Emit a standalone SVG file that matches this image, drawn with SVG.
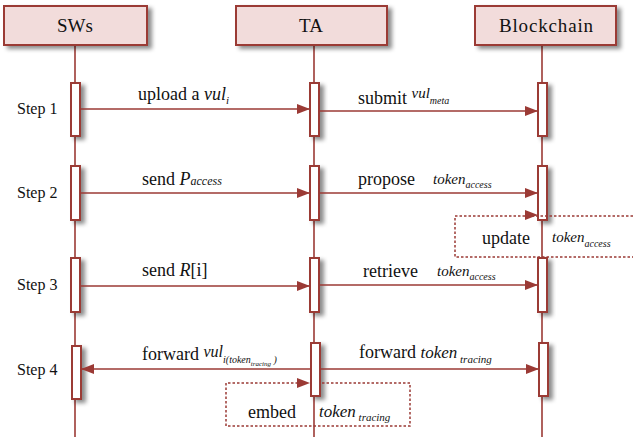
<svg xmlns="http://www.w3.org/2000/svg" width="633" height="437" viewBox="0 0 633 437" font-family="'Liberation Serif', 'DejaVu Serif', serif">
<defs>
<filter id="sh" x="-50%" y="-20%" width="250%" height="150%">
<feDropShadow dx="4" dy="3" stdDeviation="2.2" flood-color="#000" flood-opacity="0.45"/>
</filter>
<marker id="ah" markerWidth="13" markerHeight="10" refX="13" refY="5" orient="auto-start-reverse" markerUnits="userSpaceOnUse">
<path d="M0,0 L13,5 L0,10 Z" fill="#9b3a35"/>
</marker>
</defs>
<style>
.hdr{fill:#f2dcdb;stroke:#9b3a35;stroke-width:2}
.act{fill:#fff;stroke:#9b3a35;stroke-width:2}
.life{stroke:#9b3a35;stroke-width:1.6;fill:none}
.msg{stroke:#9b3a35;stroke-width:1.6;fill:none;marker-end:url(#ah)}
.dot{stroke:#9b3a35;stroke-width:1.5;fill:none;stroke-dasharray:2.5 2}
text{font-family:'Liberation Serif','DejaVu Serif',serif;fill:#111}
.h{font-size:19px;text-anchor:middle}
.s{font-size:16px}
.m{font-size:18px}
.i{font-style:italic}
</style>

<g id="lifelines">
<line class="life" x1="75" y1="45" x2="75" y2="437"/>
<line class="life" x1="314" y1="45" x2="314" y2="437"/>
<line class="life" x1="542" y1="45" x2="542" y2="437"/>
</g>

<g id="node-sws">
<rect class="hdr" x="4" y="6" width="143" height="39" filter="url(#sh)"/>
<text class="h" x="75" y="32" font-family="Liberation Serif">SWs</text>
</g>
<g id="node-ta">
<rect class="hdr" x="236" y="6" width="151" height="39" filter="url(#sh)"/>
<text class="h" x="311" y="32">TA</text>
</g>
<g id="node-blockchain">
<rect class="hdr" x="475" y="6" width="141" height="39" filter="url(#sh)"/>
<text class="h" x="546" y="32" textLength="94">Blockchain</text>
</g>

<g id="activations">
<rect class="act" x="71" y="83" width="9" height="53" filter="url(#sh)"/>
<rect class="act" x="310" y="83" width="9" height="53" filter="url(#sh)"/>
<rect class="act" x="538" y="83" width="9" height="53" filter="url(#sh)"/>
<rect class="act" x="71" y="166" width="9" height="54" filter="url(#sh)"/>
<rect class="act" x="310" y="166" width="9" height="54" filter="url(#sh)"/>
<rect class="act" x="538" y="166" width="9" height="54" filter="url(#sh)"/>
<rect class="act" x="71" y="258" width="9" height="54" filter="url(#sh)"/>
<rect class="act" x="310" y="258" width="9" height="54" filter="url(#sh)"/>
<rect class="act" x="538" y="258" width="9" height="54" filter="url(#sh)"/>
<rect class="act" x="72" y="346" width="9" height="53" filter="url(#sh)"/>
<rect class="act" x="311" y="343" width="9" height="53" filter="url(#sh)"/>
<rect class="act" x="539" y="343" width="9" height="53" filter="url(#sh)"/>
</g>

<g id="step-labels">
<text class="s" x="17" y="114">Step 1</text>
<text class="s" x="17" y="198">Step 2</text>
<text class="s" x="17" y="290">Step 3</text>
<text class="s" x="17" y="375">Step 4</text>
</g>

<g id="connectors">
<line class="msg" x1="80" y1="109" x2="310" y2="109"/>
<line class="msg" x1="319" y1="111" x2="538" y2="111"/>
<line class="msg" x1="80" y1="193" x2="310" y2="193"/>
<line class="msg" x1="319" y1="193" x2="538" y2="193"/>
<path class="dot" d="M633,216 L455,216 L455,257 L633,257"/>
<path d="M525,210 L538,215 L525,220 Z" fill="#9b3a35"/>
<line class="msg" x1="80" y1="286" x2="310" y2="286"/>
<line class="msg" x1="319" y1="285" x2="538" y2="285"/>
<line class="msg" x1="311" y1="369" x2="81" y2="369"/>
<line class="msg" x1="320" y1="369" x2="539" y2="369"/>
<path class="dot" d="M298,383 L226,383 L226,426 L410,426 L410,383 L320,383"/>
<path d="M297,378 L310,383 L297,388 Z" fill="#9b3a35"/>
</g>

<g id="message-labels">
<text class="m" x="138" y="100">upload a <tspan class="i">vul</tspan><tspan class="i" font-size="11" dy="4">i</tspan></text>
<text class="m" x="358" y="104">submit <tspan class="i" font-size="15" dy="-6">vul</tspan><tspan class="i" font-size="10" dy="6">meta</tspan></text>
<text class="m" x="142" y="185">send <tspan class="i">P</tspan><tspan class="i" font-size="12">access</tspan></text>
<text class="m" x="358" y="185">propose <tspan class="i" font-size="15" x="433" dy="-1">token</tspan><tspan class="i" font-size="10" dy="4">access</tspan></text>
<text class="m" x="482" y="244">update <tspan class="i" font-size="15" x="552" dy="-2">token</tspan><tspan class="i" font-size="10" dy="5">access</tspan></text>
<text class="m" x="142" y="276">send <tspan class="i">R</tspan>[i]</text>
<text class="m" x="363" y="277">retrieve <tspan class="i" font-size="15" x="437" dy="-1">token</tspan><tspan class="i" font-size="10" dy="4">access</tspan></text>
<text class="m" x="142" y="360">forward <tspan class="i" font-size="16" dy="-3">vul</tspan><tspan class="i" font-size="10" dy="6">i(</tspan><tspan class="i" font-size="10">token</tspan><tspan class="i" font-size="7" dy="3">tracing</tspan><tspan class="i" font-size="10" dy="-3"> )</tspan></text>
<text class="m" x="359" y="358">forward <tspan class="i" font-size="17">token</tspan><tspan class="i" font-size="11" dy="5"> tracing</tspan></text>
<text class="m" x="248" y="418">embed <tspan class="i" font-size="17" x="319" dy="-1">token</tspan><tspan class="i" font-size="11" dy="4"> tracing</tspan></text>
</g>
</svg>
